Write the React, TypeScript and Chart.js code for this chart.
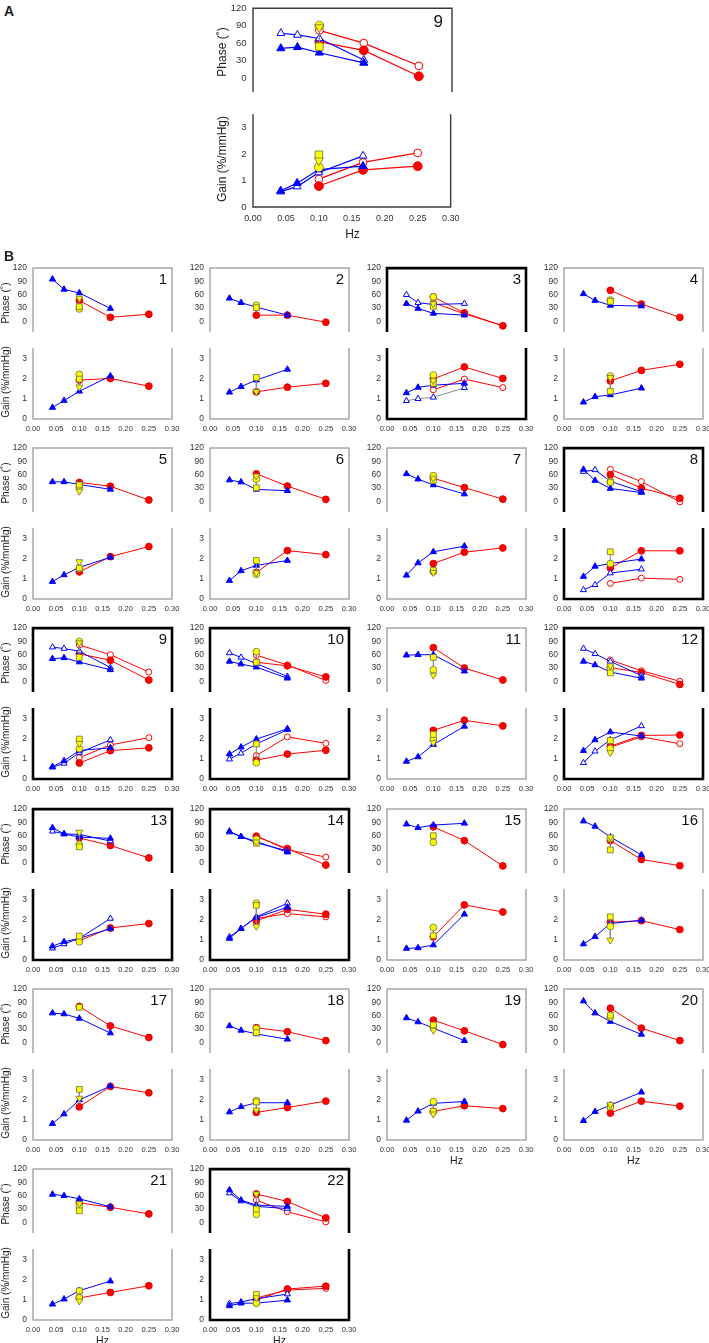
import React, { useEffect, useRef } from 'react';
import { Chart, registerables } from 'chart.js';

Chart.register(...registerables);

type Num = number | null;

// ---------- data ----------
// index 0 = panel A (enlarged copy of subject 9), indices 1..22 = panels 1..22 of B
const panelNames = ['9', '1', '2', '3', '4', '5', '6', '7', '8', '9', '10', '11', '12', '13', '14', '15', '16', '17', '18', '19', '20', '21', '22'];
const boldPanels = [3, 8, 9, 10, 12, 13, 14, 22];
const grayOpenGainLine = [3];

const blueHz = [0.042, 0.067, 0.1, 0.167];
const redHz = [0.1, 0.167, 0.25];
const yellowHz = 0.1;
const xTickValues = [0, 0.05, 0.1, 0.15, 0.2, 0.25, 0.3];
const phaseTickValues = [0, 30, 60, 90, 120];
const gainTickValues = [0, 1, 2, 3];
const phaseRange = [-24, 120];
const gainRange = [0, 3.5];

// Phase (deg)
const phaseBlueFilled: Num[][] = [
  [51, 53, 43.5, 26], // A
  [95, 72, 64, 29], // 1
  [52, 42, 32, 14], // 2
  [40, 29, 18, 14], // 3
  [62, 47, 36, 34.5], // 4
  [44, 44, 38, 27], // 5
  [48, 43.5, 27, 24], // 6
  [62, 50, 37, 16.5], // 7
  [72, 47, 29, 20], // 8
  [51, 53, 43.5, 26], // 9
  [45, 39, 32, 7], // 10
  [59, 60, 60, 23], // 11
  [45, 37, 21, 7], // 12
  [78, 64, 57, 54], // 13
  [70, 58, 47, 23], // 14
  [86, 78, 84, 88], // 15
  [93, 81, 57, 17], // 16
  [66, 64, 54, 21], // 17
  [37, 27, 19, 7], // 18
  [55, 46, 32, 4], // 19
  [93, 66, 47, 18], // 20
  [63, 60, 53, 35], // 21
  [73, 50, 39, 36], // 22
];
const phaseBlueOpen: (Num[] | null)[] = [
  [77, 74, 68, 31], // A
  null, // 1
  null, // 2
  [60, 42, 38, 40], // 3
  null, // 4
  null, // 5
  null, // 6
  null, // 7
  [67, 71, 45, 22], // 8
  [77, 74, 68, 31], // 9
  [64, 54, 40, 11], // 10
  null, // 11
  [74, 62, 45, 13], // 12
  [70, 64, 63, 48], // 13
  [68, 58, 44, 26], // 14
  null, // 15
  null, // 16
  null, // 17
  null, // 18
  null, // 19
  null, // 20
  null, // 21
  [66, 48, 36, 31], // 22
];
const phaseRedFilled: Num[][] = [
  [62, 47.5, 3], // A
  [47, 9, 16], // 1
  [14, 14, -2], // 2
  [55, 19, -10], // 3
  [70, 39, 9], // 4
  [42.5, 34, 3], // 5
  [62, 34.5, 4.5], // 6
  [52, 31, 5], // 7
  [60, 30, 7], // 8
  [62, 47.5, 3], // 9
  [43, 35, 10], // 10
  [76, 30, 3], // 11
  [31, 20, -7], // 12
  [55, 38, 10], // 13
  [58, 31, -6], // 14
  [80, 49, -8], // 15
  [49, 6.5, -7.5], // 16
  [81, 37, 11], // 17
  [33, 24, 4], // 18
  [50, 26, -5], // 19
  [77, 32, 4], // 20
  [44, 34, 19], // 21
  [64, 47, 10], // 22
];
const phaseRedOpen: (Num[] | null)[] = [
  [82, 60, 21], // A
  null, // 1
  null, // 2
  [42, 17, -10], // 3
  null, // 4
  null, // 5
  null, // 6
  null, // 7
  [72, 44.5, -1], // 8
  [82, 60, 21], // 9
  [59, 37, 2], // 10
  null, // 11
  [48, 24, 0], // 12
  null, // 13
  [60, 28, 12], // 14
  null, // 15
  null, // 16
  null, // 17
  null, // 18
  null, // 19
  null, // 20
  null, // 21
  [50, 24, 1], // 22
];
// yellow markers at 0.10 Hz: [circle, square, down-triangle]
const phaseYellow: Num[][] = [
  [90, 54, 87], // A
  [28, 33, 52], // 1
  [36, 31, null], // 2
  [55, 34, 40], // 3
  [48, 45, null], // 4
  [32, 37, 23], // 5
  [50, 30.5, 57], // 6
  [58, 47, 52], // 7
  [45, 43, null], // 8
  [90, 54, 87], // 9
  [67, 43, null], // 10
  [26, 54, 14], // 11
  [30, 19, 35], // 12
  [40, 35, 68], // 13
  [52, 43, 46], // 14
  [45, 60, null], // 15
  [54, 28, 57], // 16
  [null, 79, null], // 17
  [31, 22, null], // 18
  [35, 39, 27], // 19
  [57, 61, null], // 20
  [36, 26, 42], // 21
  [18, 30, 64], // 22
];

// Gain (%/mmHg)
const gainBlueFilled: Num[][] = [
  [0.61, 0.9, 1.41, 1.54], // A
  [0.57, 0.91, 1.37, 2.12], // 1
  [1.32, 1.6, 1.92, 2.45], // 2
  [1.29, 1.56, 1.67, 1.76], // 3
  [0.83, 1.1, 1.19, 1.52], // 4
  [0.86, 1.19, 1.56, 2.06], // 5
  [0.91, 1.39, 1.66, 1.9], // 6
  [1.17, 1.78, 2.33, 2.61], // 7
  [1.11, 1.61, 1.75, 1.97], // 8
  [0.61, 0.9, 1.41, 1.54], // 9
  [1.23, 1.57, 1.97, 2.48], // 10
  [0.87, 1.09, 1.7, 2.6], // 11
  [1.4, 1.93, 2.32, 2.12], // 12
  [0.68, 0.9, 1.07, 1.55], // 13
  [1.06, 1.55, 2.1, 2.6], // 14
  [0.57, 0.6, 0.74, 2.26], // 15
  [0.79, 1.15, 1.8, 1.96], // 16
  [0.81, 1.28, 1.98, 2.66], // 17
  [1.38, 1.64, 1.84, 1.84], // 18
  [0.97, 1.42, 1.81, 1.9], // 19
  [0.95, 1.4, 1.72, 2.36], // 20
  [0.78, 1.03, 1.45, 1.92], // 21
  [0.7, 0.83, 0.83, 0.98], // 22
];
const gainBlueOpen: (Num[] | null)[] = [
  [0.58, 0.77, 1.3, 1.93], // A
  null, // 1
  null, // 2
  [0.9, 1.0, 1.07, 1.54], // 3
  null, // 4
  null, // 5
  null, // 6
  null, // 7
  [0.45, 0.7, 1.28, 1.47], // 8
  [0.58, 0.77, 1.3, 1.93], // 9
  [0.98, 1.27, 1.73, 2.43], // 10
  null, // 11
  [0.8, 1.37, 1.93, 2.62], // 12
  [0.58, 0.79, 1.07, 2.05], // 13
  [1.14, 1.55, 2.13, 2.8], // 14
  null, // 15
  null, // 16
  null, // 17
  null, // 18
  null, // 19
  null, // 20
  null, // 21
  [0.81, 0.89, 1.05, 1.28], // 22
];
const gainRedFilled: Num[][] = [
  [0.79, 1.4, 1.54], // A
  [1.92, 2.0, 1.62], // 1
  [1.34, 1.57, 1.76], // 2
  [1.98, 2.57, 2.0], // 3
  [1.88, 2.4, 2.7], // 4
  [1.34, 2.09, 2.59], // 5
  [1.31, 2.39, 2.19], // 6
  [1.75, 2.31, 2.52], // 7
  [1.53, 2.38, 2.38], // 8
  [0.79, 1.4, 1.54], // 9
  [0.93, 1.23, 1.42], // 10
  [2.4, 2.9, 2.62], // 11
  [1.62, 2.15, 2.17], // 12
  [0.95, 1.58, 1.8], // 13
  [1.93, 2.5, 2.26], // 14
  [1.14, 2.72, 2.37], // 15
  [1.86, 1.94, 1.5], // 16
  [1.64, 2.64, 2.33], // 17
  [1.36, 1.6, 1.92], // 18
  [1.41, 1.69, 1.55], // 19
  [1.33, 1.92, 1.67], // 20
  [1.09, 1.36, 1.69], // 21
  [0.98, 1.53, 1.67], // 22
];
const gainRedOpen: (Num[] | null)[] = [
  [1.05, 1.68, 2.04], // A
  null, // 1
  null, // 2
  [1.44, 1.97, 1.55], // 3
  null, // 4
  null, // 5
  null, // 6
  null, // 7
  [0.77, 1.03, 0.97], // 8
  [1.05, 1.68, 2.04], // 9
  [1.16, 2.08, 1.76], // 10
  null, // 11
  [1.57, 2.08, 1.74], // 12
  null, // 13
  [2.05, 2.29, 2.13], // 14
  null, // 15
  null, // 16
  null, // 17
  null, // 18
  null, // 19
  null, // 20
  null, // 21
  [1.09, 1.48, 1.56], // 22
];
const gainYellow: Num[][] = [
  [1.5, 1.97, 1.75], // A
  [2.2, 1.97, 1.58], // 1
  [null, 2.05, 1.35], // 2
  [2.17, 1.76, 1.9], // 3
  [2.12, 1.37, 2.05], // 4
  [1.5, 1.53, 1.84], // 5
  [1.22, 1.9, 1.3], // 6
  [1.35, 1.41, 1.31], // 7
  [1.75, 2.33, null], // 8
  [1.5, 1.97, 1.75], // 9
  [0.8, 1.73, null], // 10
  [1.96, 2.2, 1.8], // 11
  [1.5, 1.9, 1.3], // 12
  [0.9, 1.18, null], // 13
  [2.8, 2.7, 1.66], // 14
  [1.61, 1.2, null], // 15
  [1.66, 2.13, 0.98], // 16
  [null, 2.5, 2.06], // 17
  [1.94, 1.88, 1.48], // 18
  [1.89, 1.42, 1.28], // 19
  [1.67, 1.63, 1.75], // 20
  [1.09, 1.44, 0.94], // 21
  [0.83, 1.27, 1.1], // 22
];

// ---------- layout ----------
const FONT = '"Liberation Sans", Arial, Helvetica, sans-serif';
const colLeft = [33, 210, 387, 564];
const rowTop = [265, 445, 625, 806, 986, 1166];

type Geo = { left: number; width: number; phaseTop: number; phaseH: number; gainTop: number; gainH: number; big: boolean; col: number; row: number };

const geoms: Geo[] = panelNames.map((_, i) => {
  if (i === 0) return { left: 253, width: 199, phaseTop: 4, phaseH: 96, gainTop: 110, gainH: 97, big: true, col: -1, row: -1 };
  const col = (i - 1) % 4;
  const row = Math.floor((i - 1) / 4);
  const T = rowTop[row];
  return { left: colLeft[col], width: 139, phaseTop: T, phaseH: 75, gainTop: T + 80, gainH: 74, big: false, col, row };
});

function margins(g: Geo, kind: 'phase' | 'gain') {
  const ML = g.big ? 36 : 30;
  const MR = 14;
  const MT = 8;
  const MB = kind === 'phase' ? 8 : g.big ? 26 : 22;
  return { ML, MR, MT, MB };
}

const framePlugin = {
  id: 'frame',
  beforeDatasetsDraw(chart: any, _args: any, opts: any) {
    const { left, right, top, bottom } = chart.chartArea;
    const ctx = chart.ctx;
    ctx.save();
    ctx.strokeStyle = opts.color;
    ctx.lineWidth = opts.width;
    ctx.lineJoin = 'miter';
    ctx.beginPath();
    if (opts.kind === 'phase') {
      ctx.moveTo(left, bottom);
      ctx.lineTo(left, top);
      ctx.lineTo(right, top);
      ctx.lineTo(right, bottom);
    } else {
      ctx.moveTo(left, top);
      ctx.lineTo(left, bottom);
      ctx.lineTo(right, bottom);
      ctx.lineTo(right, top);
    }
    ctx.stroke();
    ctx.restore();
  },
};

function seriesPoints(xs: number[], ys: Num[]) {
  const out: { x: number; y: number }[] = [];
  xs.forEach((x, k) => {
    const v = ys[k];
    if (v !== null && v !== undefined) out.push({ x, y: v });
  });
  return out;
}

function buildConfig(i: number, kind: 'phase' | 'gain') {
  const g = geoms[i];
  const s = g.big ? 1.3 : 1;
  const isPhase = kind === 'phase';
  const { ML, MR, MT, MB } = margins(g, kind);
  const lw = g.big ? 1.2 : 1;

  const bf = (isPhase ? phaseBlueFilled : gainBlueFilled)[i];
  const bo = (isPhase ? phaseBlueOpen : gainBlueOpen)[i];
  const rf = (isPhase ? phaseRedFilled : gainRedFilled)[i];
  const ro = (isPhase ? phaseRedOpen : gainRedOpen)[i];
  const yv = (isPhase ? phaseYellow : gainYellow)[i];

  const datasets: any[] = [];
  const yStyles = ['circle', 'rect', 'triangle'];
  const yRots = [0, 0, 180];
  const yRad = [3.4, 4.1, 4.0];
  const yd: any[] = [];
  const ys: string[] = [];
  const yr: number[] = [];
  const yrad: number[] = [];
  yv.forEach((v, k) => {
    if (v !== null) {
      yd.push({ x: yellowHz, y: v });
      ys.push(yStyles[k]);
      yr.push(yRots[k]);
      yrad.push(yRad[k] * s);
    }
  });
  datasets.push({
    data: yd,
    showLine: true,
    borderColor: '#8a8a8a',
    borderWidth: 1,
    pointStyle: ys,
    pointRotation: yr,
    pointRadius: yrad,
    pointBackgroundColor: '#ffff00',
    pointBorderColor: '#7d7d3c',
    pointBorderWidth: 0.9,
    clip: false,
  });
  datasets.push({
    data: seriesPoints(blueHz, bf),
    showLine: true,
    borderColor: '#0000ff',
    borderWidth: lw,
    pointStyle: 'triangle',
    pointRadius: 3.6 * s,
    pointBackgroundColor: '#0000ff',
    pointBorderColor: '#0000ff',
    pointBorderWidth: 1,
    clip: false,
  });
  if (bo) {
    const gray = !isPhase && grayOpenGainLine.includes(i);
    datasets.push({
      data: seriesPoints(blueHz, bo),
      showLine: true,
      borderColor: gray ? '#8a8a8a' : '#0000ff',
      borderWidth: lw,
      pointStyle: 'triangle',
      pointRadius: 3.5 * s,
      pointBackgroundColor: '#ffffff',
      pointBorderColor: '#0000ff',
      pointBorderWidth: 1,
      clip: false,
    });
  }
  datasets.push({
    data: seriesPoints(redHz, rf),
    showLine: true,
    borderColor: '#ff0000',
    borderWidth: lw,
    pointStyle: 'circle',
    pointRadius: 3.4 * s,
    pointBackgroundColor: '#ff0000',
    pointBorderColor: '#e80000',
    pointBorderWidth: 1,
    clip: false,
  });
  if (ro) {
    datasets.push({
      data: seriesPoints(redHz, ro),
      showLine: true,
      borderColor: '#ff0000',
      borderWidth: lw,
      pointStyle: 'circle',
      pointRadius: 3.0 * s,
      pointBackgroundColor: '#ffffff',
      pointBorderColor: '#ff0000',
      pointBorderWidth: 1,
      clip: false,
    });
  }

  const bold = i !== 0 && boldPanels.includes(i);
  const frame = i === 0
    ? { kind, color: '#3a3a3a', width: 1.4 }
    : bold
    ? { kind, color: '#000000', width: 2.6 }
    : { kind, color: '#a8a8a8', width: 1.5 };

  const yTickSize = g.big ? 9.5 : 8.5;
  const xTickSize = g.big ? 9 : 7.5;
  const yTicks = isPhase ? phaseTickValues : gainTickValues;
  const range = isPhase ? phaseRange : gainRange;

  return {
    type: 'scatter' as const,
    data: { datasets },
    options: {
      animation: false,
      responsive: false,
      maintainAspectRatio: false,
      devicePixelRatio: 1,
      events: [],
      layout: { padding: { left: 0, right: MR, top: MT, bottom: isPhase ? MB : 0 } },
      plugins: {
        legend: { display: false },
        tooltip: { enabled: false },
        frame,
      },
      scales: {
        x: {
          type: 'linear',
          min: 0,
          max: 0.3,
          display: !isPhase,
          position: 'bottom',
          afterBuildTicks: (sc: any) => {
            sc.ticks = xTickValues.map((v) => ({ value: v }));
          },
          afterFit: (sc: any) => {
            sc.height = MB;
          },
          grid: { display: false, drawTicks: false },
          border: { display: false },
          ticks: {
            autoSkip: false,
            maxRotation: 0,
            minRotation: 0,
            padding: g.big ? 6.6 : 5.5,
            color: '#333333',
            font: { family: FONT, size: xTickSize },
            callback: (v: any) => Number(v).toFixed(2),
          },
        },
        y: {
          type: 'linear',
          min: range[0],
          max: range[1],
          position: 'left',
          afterBuildTicks: (sc: any) => {
            sc.ticks = yTicks.map((v) => ({ value: v }));
          },
          afterFit: (sc: any) => {
            sc.width = ML;
          },
          grid: { display: false, drawTicks: false },
          border: { display: false },
          ticks: {
            autoSkip: false,
            padding: g.big ? 6.5 : 6,
            color: '#333333',
            font: { family: FONT, size: yTickSize },
            callback: (v: any) => String(v),
          },
        },
      },
    },
    plugins: [framePlugin],
  };
}

type CanvasSpec = { key: string; i: number; kind: 'phase' | 'gain'; left: number; top: number; w: number; h: number };

const canvasSpecs: CanvasSpec[] = [];
geoms.forEach((g, i) => {
  (['phase', 'gain'] as const).forEach((kind) => {
    const { ML, MR, MT, MB } = margins(g, kind);
    const top = kind === 'phase' ? g.phaseTop : g.gainTop;
    const H = kind === 'phase' ? g.phaseH : g.gainH;
    canvasSpecs.push({ key: `${i}-${kind}`, i, kind, left: g.left - ML, top: top - MT, w: ML + g.width + MR, h: MT + H + MB });
  });
});

const textBase: React.CSSProperties = { position: 'absolute', fontFamily: FONT, color: '#222', whiteSpace: 'nowrap', lineHeight: 1 };

export default function App() {
  const refs = useRef<(HTMLCanvasElement | null)[]>([]);

  useEffect(() => {
    const charts: Chart[] = [];
    canvasSpecs.forEach((spec, k) => {
      const c = refs.current[k];
      if (!c) return;
      charts.push(new Chart(c, buildConfig(spec.i, spec.kind) as any));
    });
    return () => charts.forEach((ch) => ch.destroy());
  }, []);

  const labels: React.ReactNode[] = [];
  geoms.forEach((g, i) => {
    const right = g.left + g.width;
    // panel number
    labels.push(
      <div
        key={`num-${i}`}
        style={{
          ...textBase,
          fontSize: g.big ? 17 : 15,
          color: '#111',
          left: right - (g.big ? 9 : 5),
          top: g.phaseTop + (g.big ? 17 : 13),
          transform: 'translate(-100%, -50%)',
        }}
      >
        {panelNames[i]}
      </div>
    );
    if (g.big || g.col === 0) {
      const cx = g.big ? 222 : 6;
      const fs = g.big ? 12 : 10;
      labels.push(
        <div key={`pt-${i}`} style={{ ...textBase, fontSize: fs, left: cx, top: g.phaseTop + g.phaseH / 2, transform: 'translate(-50%, -50%) rotate(-90deg)' }}>
          Phase (˚)
        </div>
      );
      labels.push(
        <div key={`gt-${i}`} style={{ ...textBase, fontSize: fs, left: cx, top: g.gainTop + g.gainH / 2, transform: 'translate(-50%, -50%) rotate(-90deg)' }}>
          Gain (%/mmHg)
        </div>
      );
    }
    const isBottom = g.big || i >= 19;
    if (isBottom) {
      labels.push(
        <div
          key={`hz-${i}`}
          style={{
            ...textBase,
            fontSize: g.big ? 12 : 10.5,
            left: g.left + g.width / 2,
            top: g.gainTop + g.gainH + (g.big ? 27 : 20),
            transform: 'translate(-50%, -50%)',
          }}
        >
          Hz
        </div>
      );
    }
  });

  return (
    <div style={{ position: 'absolute', left: 0, top: 0, width: 709, height: 1343, background: '#ffffff', overflow: 'hidden' }}>
      {canvasSpecs.map((spec, k) => (
        <canvas
          key={spec.key}
          ref={(el) => {
            refs.current[k] = el;
          }}
          width={spec.w}
          height={spec.h}
          style={{ position: 'absolute', left: spec.left, top: spec.top, width: spec.w, height: spec.h }}
        />
      ))}
      <div style={{ ...textBase, fontSize: 14, fontWeight: 'bold', left: 4, top: 4 }}>A</div>
      <div style={{ ...textBase, fontSize: 14, fontWeight: 'bold', left: 4, top: 249 }}>B</div>
      {labels}
    </div>
  );
}
